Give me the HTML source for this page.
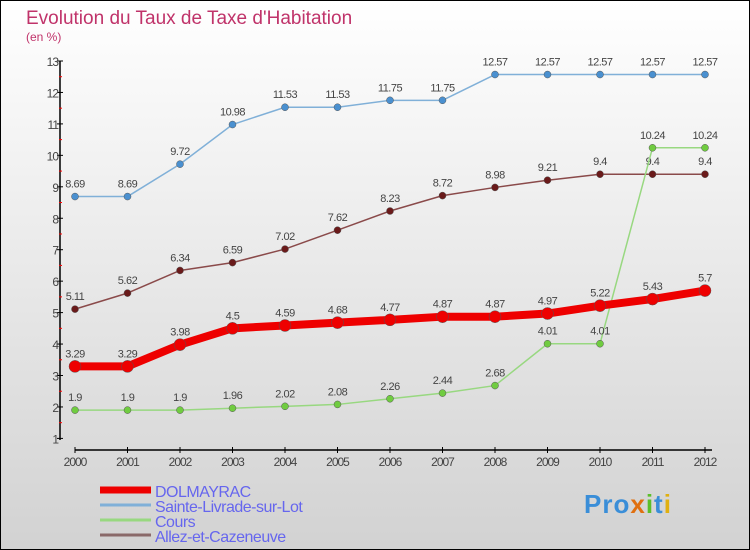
<!DOCTYPE html>
<html><head><meta charset="utf-8"><style>
body{margin:0}
#c{width:750px;height:550px;position:relative;box-sizing:border-box;border:1px solid #000;background:linear-gradient(#ffffff,#d2d2d2);font-family:"Liberation Sans",sans-serif;overflow:hidden}
</style></head><body>
<div id="c">
<svg id="s" width="750" height="550" style="position:absolute;left:-1px;top:-1px">
<text x="26" y="24" font-size="19" fill="#c0336a">Evolution du Taux de Taxe d'Habitation</text>
<text x="26" y="41" font-size="12" fill="#c0336a">(en %)</text>
<g id="g"></g>
</svg>
<div style="position:absolute;left:583px;top:488px;font:bold 26px 'Liberation Sans',sans-serif;color:#3a8ed8;letter-spacing:1px">Pro<span style="color:#e07010">x</span><span style="color:#5bbf2a">i</span>t<span style="color:#e0b010">i</span></div>
</div>
<script>
const years=[2000,2001,2002,2003,2004,2005,2006,2007,2008,2009,2010,2011,2012];
const dolmayrac=[3.29,3.29,3.98,4.5,4.59,4.68,4.77,4.87,4.87,4.97,5.22,5.43,5.7];
const sainte=[8.69,8.69,9.72,10.98,11.53,11.53,11.75,11.75,12.57,12.57,12.57,12.57,12.57];
const cours=[1.9,1.9,1.9,1.96,2.02,2.08,2.26,2.44,2.68,4.01,4.01,10.24,10.24];
const allez=[5.11,5.62,6.34,6.59,7.02,7.62,8.23,8.72,8.98,9.21,9.4,9.4,9.4];
const yTicks=[1,2,3,4,5,6,7,8,9,10,11,12,13];
const labD=["3.29","3.29","3.98","4.5","4.59","4.68","4.77","4.87","4.87","4.97","5.22","5.43","5.7"];
const labS=["8.69","8.69","9.72","10.98","11.53","11.53","11.75","11.75","12.57","12.57","12.57","12.57","12.57"];
const labC=["1.9","1.9","1.9","1.96","2.02","2.08","2.26","2.44","2.68","4.01","4.01","10.24","10.24"];
const labA=["5.11","5.62","6.34","6.59","7.02","7.62","8.23","8.72","8.98","9.21","9.4","9.4","9.4"];
const X=i=>75+i*52.5, Y=v=>61+(13-v)*31.45;
const g=document.getElementById('g'),NS='http://www.w3.org/2000/svg';
function mk(t,a,p){const e=document.createElementNS(NS,t);for(const k in a)e.setAttribute(k,a[k]);(p||g).appendChild(e);return e;}
let e=mk('line',{x1:60,y1:Y(13),x2:60,y2:440,stroke:'#000','stroke-width':1.5});


e=mk('line',{x1:75,y1:450,x2:712,y2:450,stroke:'#000','stroke-width':1.5});


yTicks.forEach(v=>{mk('line',{x1:57,x2:63,y1:Y(v),y2:Y(v),stroke:'#000'});
 if(v<13)mk('line',{x1:59,x2:62,y1:Y(v+0.5),y2:Y(v+0.5),stroke:'#f00'});
 e=mk('text',{x:58,y:Y(v)+5,'font-size':12,fill:'#444','text-anchor':'end','letter-spacing':'-1'});e.textContent=v;
 
 });
years.forEach((y,i)=>{mk('line',{x1:X(i),x2:X(i),y1:447,y2:453,stroke:'#000'});
 e=mk('text',{x:X(i),y:466,'font-size':12,fill:'#444','text-anchor':'middle','letter-spacing':'-1'});e.textContent=y;
 
 });
function series(d,labs,col,dot,w,r,name){
 const pts=d.map((v,i)=>X(i)+','+Y(v)).join(' ');
 e=mk('polyline',{points:pts,fill:'none',stroke:col,'stroke-width':w,'stroke-linejoin':'round'});
 
 
 d.forEach((v,i)=>{e=mk('circle',{cx:X(i),cy:Y(v),r:r,fill:dot,stroke:'#555','stroke-width':0.5});
  
  
  e=mk('text',{x:X(i),y:Y(v)-9,'font-size':11,fill:'#444','text-anchor':'middle','letter-spacing':'-0.5'});e.textContent=labs[i];
  
  });
}
series(sainte,labS,'#80b0d8','#4a90d0',1.5,3.5,'sainte-livrade');
series(allez,labA,'#8a4a4a','#6a1a1a',1.5,3.5,'allez');
series(cours,labC,'#98d880','#70cc40',1.5,3.5,'cours');
series(dolmayrac,labD,'#ee0000','#ee0000',8,6,'dolmayrac');
const legNames=['DOLMAYRAC','Sainte-Livrade-sur-Lot','Cours','Allez-et-Cazeneuve'];
const legCols=['#ee0000','#80b0d8','#98d880','#8a6a6a'];
const legW=[7,3,3,3];const legY=[493,508,523,538];
legNames.forEach((n,i)=>{e=mk('line',{x1:100,x2:151,y1:legY[i]-3,y2:legY[i]-3,stroke:legCols[i],'stroke-width':legW[i]});
 
 
 e=mk('text',{x:155,y:legY[i]+4,'font-size':16,fill:'#6666ee','letter-spacing':'-0.5'});e.textContent=n;
 
 });
</script>
</body></html>
